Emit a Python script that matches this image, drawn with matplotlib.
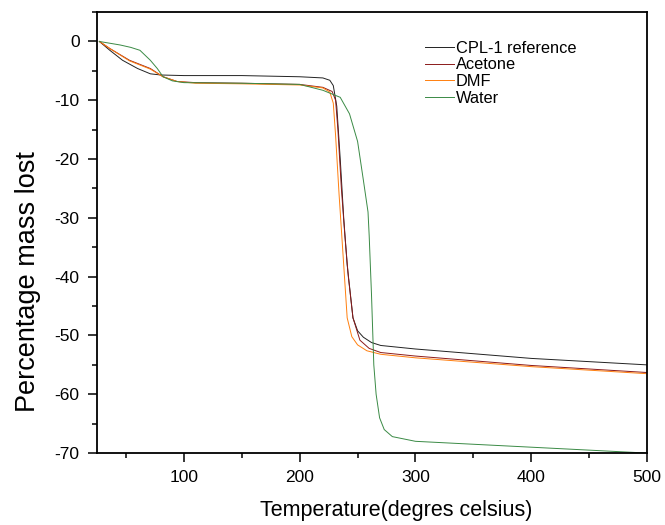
import matplotlib.pyplot as plt
from matplotlib.ticker import AutoMinorLocator

plt.rcParams['font.family'] = ['Liberation Sans', 'DejaVu Sans']
plt.rcParams['axes.unicode_minus'] = False

# CPL-1 reference
temp_ref = [27, 36, 47, 60, 71, 80, 100, 150, 200, 220, 226, 229, 232, 235, 238,
            241, 246, 250, 255, 262, 270, 300, 400, 500]
mass_ref = [0, -1.5, -3.2, -4.6, -5.5, -5.7, -5.8, -5.8, -6.0, -6.2, -6.6, -7.5, -11,
            -20, -30, -38, -47, -49.2, -50.3, -51.2, -51.7, -52.3, -53.9, -55.0]

# Acetone
temp_ace = [27, 36, 53, 71, 82, 94, 110, 150, 200, 220, 228, 231, 233, 236, 239,
            242, 246, 252, 260, 270, 300, 400, 500]
mass_ace = [0, -1.2, -3.2, -4.6, -6.0, -6.8, -7.0, -7.1, -7.3, -7.8, -8.5, -10, -15,
            -25, -33, -40, -47, -50.8, -52.2, -52.9, -53.5, -55.1, -56.3]

# DMF
temp_dmf = [27, 36, 53, 71, 82, 94, 110, 150, 200, 220, 226, 229, 231, 234, 237,
            241, 245, 250, 258, 270, 300, 400, 500]
mass_dmf = [0, -1.2, -3.3, -4.7, -6.0, -6.8, -7.1, -7.2, -7.4, -7.9, -8.6, -10.5, -16,
            -26, -35, -47, -50.2, -51.6, -52.6, -53.2, -53.8, -55.3, -56.5]

# Water
temp_wat = [27, 36, 45, 54, 62, 71, 77, 82, 90, 100, 150, 200, 220, 235, 243, 250,
            255, 259, 260, 261, 262, 263, 264, 266, 269, 273, 280, 290, 300, 400, 500]
mass_wat = [0, -0.3, -0.6, -1.0, -1.5, -3.2, -4.6, -6.0, -6.7, -7.0, -7.1, -7.3, -8.3,
            -9.5, -12.3, -17, -23.6, -29, -33, -38, -43, -49, -55, -60, -64, -66,
            -67.2, -67.6, -68, -69, -70]

fig = plt.figure(figsize=(6.65, 5.25), dpi=100)
ax = fig.add_axes([0.146, 0.137, 0.827, 0.840])

ax.plot(temp_ref, mass_ref, color='#222222', lw=0.7, label='CPL-1 reference')
ax.plot(temp_ace, mass_ace, color='#8b1a1a', lw=0.7, label='Acetone')
ax.plot(temp_dmf, mass_dmf, color='#ff7f0e', lw=0.7, label='DMF')
ax.plot(temp_wat, mass_wat, color='#3a8a45', lw=0.7, label='Water')

ax.set_xlim(25, 500)
ax.set_ylim(-70, 5)
ax.set_xticks([100, 200, 300, 400, 500])
ax.set_yticks([0, -10, -20, -30, -40, -50, -60, -70])
ax.xaxis.set_minor_locator(AutoMinorLocator(2))
ax.yaxis.set_minor_locator(AutoMinorLocator(2))
ax.tick_params(which='major', direction='out', length=6.5, width=1.1, labelsize=12.5, pad=6)
ax.tick_params(which='minor', direction='out', length=3.5, width=1.1)
for s in ax.spines.values():
    s.set_linewidth(1.3)

ax.set_xlabel('Temperature(degres celsius)', fontsize=15.5)
ax.set_ylabel('Percentage mass lost', fontsize=19.5)
ax.xaxis.set_label_coords(0.544, -0.107)
ax.yaxis.set_label_coords(-0.102, 0.39)

ax.legend(loc='upper left', bbox_to_anchor=(0.596, 0.935), frameon=False,
          fontsize=11.8, labelspacing=0.1, handlelength=1.8, handletextpad=0.1,
          borderpad=0, borderaxespad=0)

fig.savefig('out.png')
